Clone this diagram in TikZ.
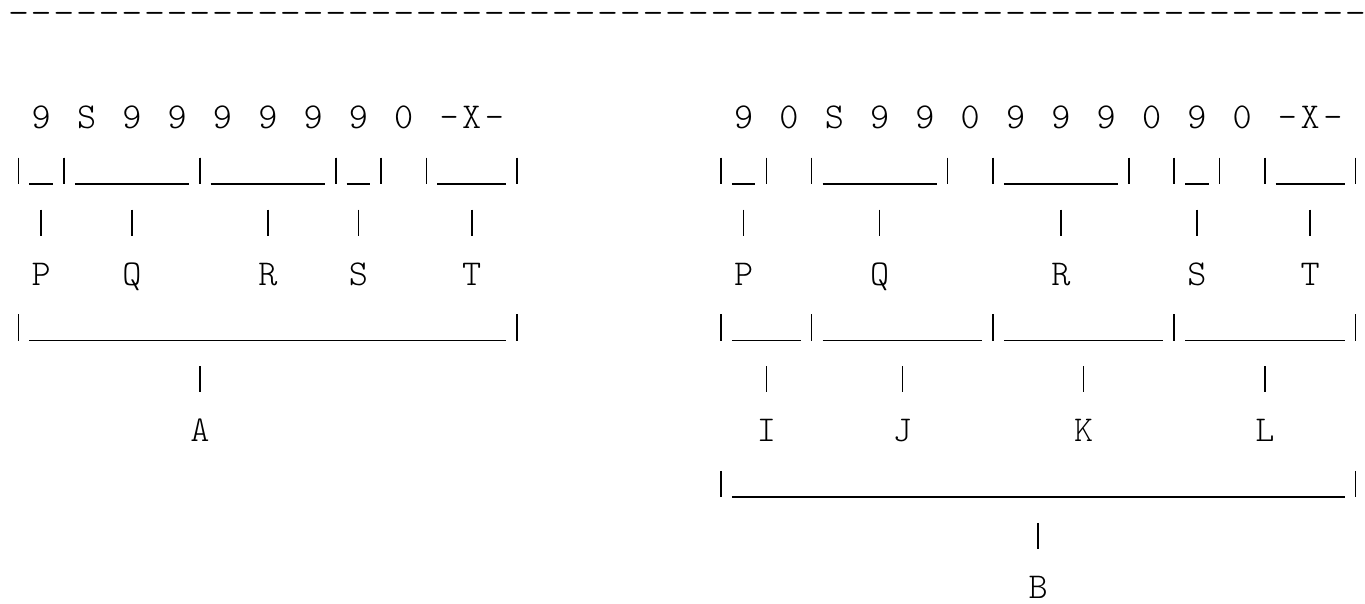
\documentclass[tikz,border=0pt]{standalone}
\usepackage{fontspec}
\newfontfamily\asciifont{Latin Modern Mono Light}
\tikzset{
  sym/.style={font=\asciifont\fontsize{18.2}{20}\selectfont,inner sep=0pt,
    anchor=base,text height=11.33pt,text depth=0pt},
  tick/.style={shorten <=13pt,shorten >=13pt}
}
% bracket from column #1 to column #2 on row #3, its middle named #4
\newcommand{\grp}[4]{%
  \draw (#1,#3-0.44) -- (#1,#3+0.07) (#1+0.48,#3+0.06) -- (#2-0.48,#3+0.06)
        (#2,#3-0.44) -- (#2,#3+0.07);
  \coordinate (#4) at ({(#1+#2)/2},#3+0.06);}
\begin{document}
\begin{tikzpicture}[x=11.33pt,y=-26.1pt,line width=0.8pt]
  \useasboundingbox (-0.82,-0.46) rectangle (59.42,11.1);

  \foreach \c in {0,...,59}
    \node[sym,xscale=1.1] (d\c) at (\c,0) {-};

  % left group
  \foreach \c/\t in {1/9,3/S,5/9,7/9,9/9,11/9,13/9,15/9,17/0,19/-,20/X,21/-}
    \node[sym] (ld\c) at (\c,2) {\t};
  \grp{0}{2}{3}{blP} \grp{2}{8}{3}{blQ} \grp{8}{14}{3}{blR}
  \grp{14}{16}{3}{blS} \grp{18}{22}{3}{blT}
  \node[sym] (lP) at (1,5) {P};
  \node[sym] (lQ) at (5,5) {Q};
  \node[sym] (lR) at (11,5) {R};
  \node[sym] (lS) at (15,5) {S};
  \node[sym] (lT) at (20,5) {T};
  \grp{0}{22}{6}{bA}
  \node[sym] (A) at (8,8) {A};

  % right group
  \foreach \c/\t in {32/9,34/0,36/S,38/9,40/9,42/0,44/9,46/9,48/9,50/0,52/9,54/0,
                     56/-,57/X,58/-}
    \node[sym] (rd\c) at (\c,2) {\t};
  \grp{31}{33}{3}{brP} \grp{35}{41}{3}{brQ} \grp{43}{49}{3}{brR}
  \grp{51}{53}{3}{brS} \grp{55}{59}{3}{brT}
  \node[sym] (rP) at (32,5) {P};
  \node[sym] (rQ) at (38,5) {Q};
  \node[sym] (rR) at (46,5) {R};
  \node[sym] (rS) at (52,5) {S};
  \node[sym] (rT) at (57,5) {T};
  \grp{31}{35}{6}{bI} \grp{35}{43}{6}{bJ} \grp{43}{51}{6}{bK} \grp{51}{59}{6}{bL}
  \node[sym] (I) at (33,8) {I};
  \node[sym] (J) at (39,8) {J};
  \node[sym] (K) at (47,8) {K};
  \node[sym] (L) at (55,8) {L};
  \grp{31}{59}{9}{bB}
  \node[sym] (B) at (45,11) {B};

  \foreach \n in {lP,lQ,lR,lS,lT,A,rP,rQ,rR,rS,rT,I,J,K,L,B}
    \draw[tick] (\n |- b\n) -- (\n);
\end{tikzpicture}
\end{document}
